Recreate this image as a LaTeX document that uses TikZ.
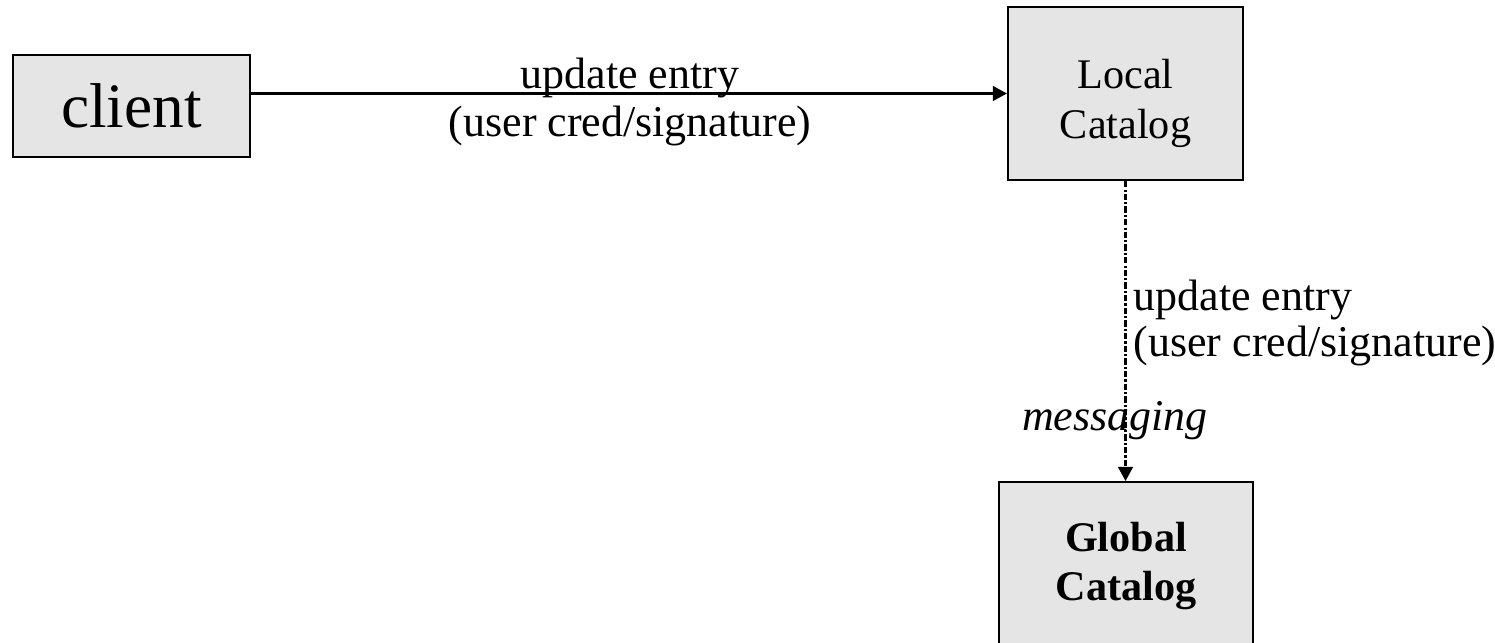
\documentclass[tikz,border=0pt]{standalone}
\usepackage{fontspec}
\setmainfont{Liberation Serif}
\usetikzlibrary{arrows.meta}

\tikzset{
  catbox/.style={draw, line width=0.6pt, fill=black!10, inner sep=0pt, align=center},
  msgarrow/.style={line width=0.6pt, -{Triangle[length=4pt,width=4.2pt]}},
  dashdot/.style={dash pattern=on 1.8pt off 0.6pt on 0.6pt off 0.6pt},
  lbl/.style={align=center, inner sep=0pt, font=\fontsize{12.5}{13.5}\selectfont}
}

\begin{document}
\begin{tikzpicture}[x=0.01cm, y=-0.01cm]
\useasboundingbox (0,0) rectangle (1495,643);

\node[catbox, minimum width=2.37cm, minimum height=1.02cm, font=\fontsize{18}{20}\selectfont] (client) at (131.5,106) {client};
\node[catbox, minimum width=2.35cm, minimum height=1.73cm, font=\fontsize{12}{14}\selectfont] (local) at (1125.5,93.5) {\rule{0pt}{14pt}Local\\Catalog};
\node[catbox, minimum width=2.54cm, minimum height=1.68cm, anchor=north, font=\fontsize{12}{14}\selectfont\bfseries] (global) at (1126,481) {Global\\Catalog};

\draw[msgarrow] (local.west -| client.east) -- (local.west);
\draw[msgarrow, dashdot] (local.south) -- (local.south |- global.north);

\node[lbl] (upd1) at (630,102) {update entry\\(user cred/signature)};
\node[lbl, align=left, anchor=west, font=\fontsize{12.5}{13}\selectfont] (upd2) at (1133,323) {update entry\\(user cred/signature)};
\node[lbl, anchor=base, font=\fontsize{12.5}{14}\selectfont\itshape] (msg) at (1115,430) {messaging};
\end{tikzpicture}
\end{document}
